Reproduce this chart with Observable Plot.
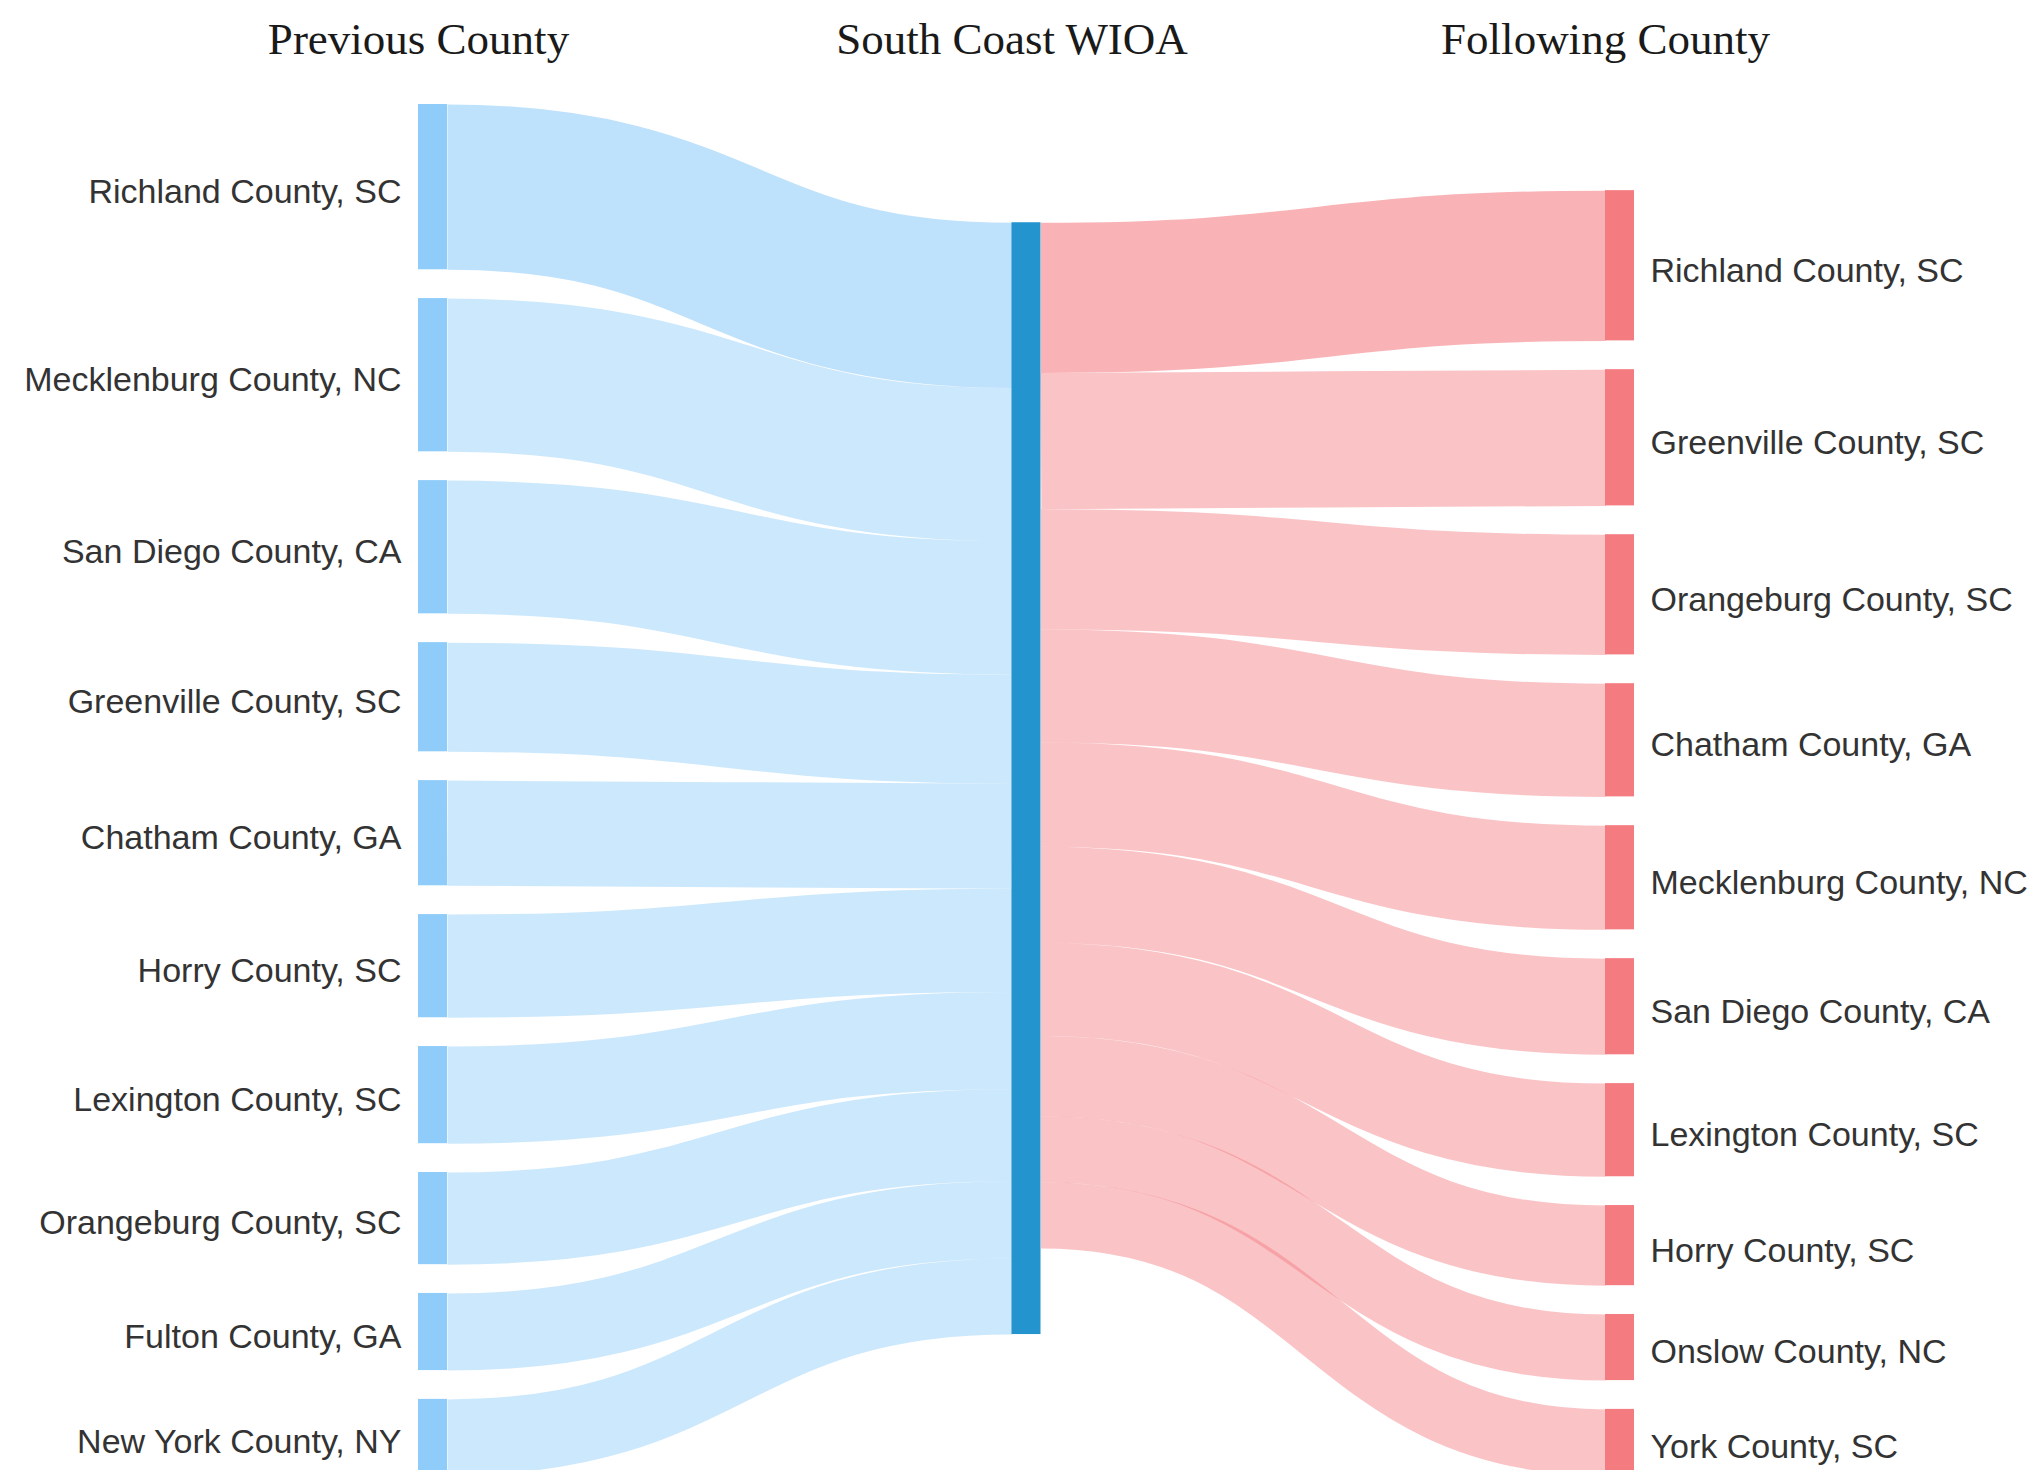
<!DOCTYPE html>
<html>
<head>
<meta charset="utf-8">
<script src="https://cdn.jsdelivr.net/npm/d3@7"></script>
<script src="https://cdn.jsdelivr.net/npm/@observablehq/plot@0.6"></script>
<style>
  html, body { margin: 0; padding: 0; background: #ffffff; overflow: hidden; }
  #chart svg { display: block; background: #ffffff; }
</style>
</head>
<body>
<div id="chart"></div>
<script>
// ---------------- DATA ----------------
const columnTitles = ["Previous County", "South Coast WIOA", "Following County"];
const hubName = "South Coast WIOA";

const previousCounties = [
  "Richland County, SC", "Mecklenburg County, NC", "San Diego County, CA",
  "Greenville County, SC", "Chatham County, GA", "Horry County, SC",
  "Lexington County, SC", "Orangeburg County, SC", "Fulton County, GA",
  "New York County, NY"
];
const previousValues = [165, 153, 133, 109, 105, 103, 97, 92, 77, 76];

const followingCounties = [
  "Richland County, SC", "Greenville County, SC", "Orangeburg County, SC",
  "Chatham County, GA", "Mecklenburg County, NC", "San Diego County, CA",
  "Lexington County, SC", "Horry County, SC", "Onslow County, NC",
  "York County, SC"
];
const followingValues = [150, 136, 120, 113, 104, 96, 93, 80, 66, 66];

// ---------------- LAYOUT SETTINGS ----------------
const W = 2028, H = 1470;
const X_RANGE = [418, 1605];        // left edge of first and last column
const Y_RANGE = [104, 1475];        // vertical extent of the node columns
const SPAN = Y_RANGE[1] - Y_RANGE[0];
const NODE_W_PX = 29;
const NODE_PAD = 28.8;
const NODE_W = NODE_W_PX / ((X_RANGE[1] - X_RANGE[0]) / 2); // in column units

const colors = { left: "#8FCCF9", hub: "#2394CE", right: "#F47B80" };

// ---------------- BUILD GRAPH ----------------
const nodes = [
  ...previousCounties.map(name => ({id: "prev:" + name, name, layer: 0})),
  {id: "hub", name: hubName, layer: 1},
  ...followingCounties.map(name => ({id: "next:" + name, name, layer: 2}))
];
const links = [
  ...previousCounties.map((name, i) => ({source: "prev:" + name, target: "hub", value: previousValues[i], side: "left", rank: i})),
  ...followingCounties.map((name, i) => ({source: "hub", target: "next:" + name, value: followingValues[i], side: "right", rank: i}))
];

// ---------------- SANKEY LAYOUT (classic d3-sankey relaxation) ----------------
function layoutSankey(nodes, links, extent, py, iterations = 32) {
  const y0 = 0, y1 = extent;
  nodes.forEach(n => { n.sourceLinks = []; n.targetLinks = []; });
  const byId = new Map(nodes.map(n => [n.id, n]));
  links.forEach(l => {
    l.source = byId.get(l.source); l.target = byId.get(l.target);
    l.source.sourceLinks.push(l); l.target.targetLinks.push(l);
  });
  nodes.forEach(n => n.value = Math.max(d3.sum(n.sourceLinks, l => l.value), d3.sum(n.targetLinks, l => l.value)));
  const columns = d3.groups(nodes, n => n.layer).sort((a, b) => a[0] - b[0]).map(d => d[1]);
  const ky = d3.min(columns, c => (y1 - y0 - (c.length - 1) * py) / d3.sum(c, n => n.value));
  columns.forEach(ns => ns.forEach((n, i) => { n.y0 = i; n.y1 = i + n.value * ky; }));
  links.forEach(l => l.width = l.value * ky);
  const center = n => (n.y0 + n.y1) / 2;

  function resolveCollisions() {
    for (const ns of columns) {
      let y = y0, node, dy;
      ns.sort((a, b) => a.y0 - b.y0);
      for (let i = 0; i < ns.length; ++i) {
        node = ns[i]; dy = y - node.y0;
        if (dy > 0) node.y0 += dy, node.y1 += dy;
        y = node.y1 + py;
      }
      dy = y - py - y1;
      if (dy > 0) {
        y = (node.y0 -= dy), node.y1 -= dy;
        for (let i = ns.length - 2; i >= 0; --i) {
          node = ns[i]; dy = node.y1 + py - y;
          if (dy > 0) node.y0 -= dy, node.y1 -= dy;
          y = node.y0;
        }
      }
    }
  }
  function relaxLeftToRight(alpha) {
    for (const ns of columns) for (const n of ns) if (n.targetLinks.length) {
      const dy = (d3.sum(n.targetLinks, l => center(l.source) * l.value) / d3.sum(n.targetLinks, l => l.value) - center(n)) * alpha;
      n.y0 += dy; n.y1 += dy;
    }
  }
  function relaxRightToLeft(alpha) {
    for (const ns of columns.slice().reverse()) for (const n of ns) if (n.sourceLinks.length) {
      const dy = (d3.sum(n.sourceLinks, l => center(l.target) * l.value) / d3.sum(n.sourceLinks, l => l.value) - center(n)) * alpha;
      n.y0 += dy; n.y1 += dy;
    }
  }
  resolveCollisions();
  for (let alpha = 1, k = iterations; k > 0; --k) {
    relaxRightToLeft(alpha *= 0.99);
    resolveCollisions();
    relaxLeftToRight(alpha);
    resolveCollisions();
  }
  for (const n of nodes) {
    n.sourceLinks.sort((a, b) => a.target.y0 - b.target.y0);
    n.targetLinks.sort((a, b) => a.source.y0 - b.source.y0);
    let a = n.y0, b = n.y0;
    for (const l of n.sourceLinks) { l.y0 = a + l.width / 2; a += l.width; }
    for (const l of n.targetLinks) { l.y1 = b + l.width / 2; b += l.width; }
  }
  return {nodes, links};
}

layoutSankey(nodes, links, SPAN, NODE_PAD);

const leftLinks = links.filter(l => l.side === "left");
const rightLinks = links.filter(l => l.side === "right");
const nodeFill = n => n.layer === 0 ? colors.left : n.layer === 1 ? colors.hub : colors.right;
const pxPerUnit = (Y_RANGE[1] - Y_RANGE[0]) / SPAN;
const labelFont = "'Liberation Sans', Arial, sans-serif";

const chart = Plot.plot({
  width: W,
  height: H,
  margin: 0,
  x: {type: "linear", domain: [0, 2], range: X_RANGE, axis: null},
  y: {type: "linear", domain: [0, SPAN], range: Y_RANGE, axis: null},
  color: {type: "identity"},
  opacity: {type: "identity"},
  style: {background: "#ffffff"},
  marks: [
    Plot.link(leftLinks, {
      x1: d => d.source.layer + NODE_W, x2: d => d.target.layer,
      y1: "y0", y2: "y1", curve: "bump-x",
      stroke: colors.left,
      strokeOpacity: d => d.rank === 0 ? 0.58 : 0.46,
      strokeWidth: d => d.width * pxPerUnit
    }),
    Plot.link(rightLinks, {
      x1: d => d.source.layer + NODE_W, x2: d => d.target.layer,
      y1: "y0", y2: "y1", curve: "bump-x",
      stroke: colors.right,
      strokeOpacity: d => d.rank === 0 ? 0.58 : 0.45,
      strokeWidth: d => d.width * pxPerUnit
    }),
    Plot.rect(nodes, {
      x1: d => d.layer, x2: d => d.layer + NODE_W,
      y1: "y0", y2: "y1",
      fill: nodeFill
    }),
    Plot.text(nodes.filter(n => n.layer === 0), {
      x: "layer", y: d => (d.y0 + d.y1) / 2, text: "name",
      dx: -17, dy: 5, textAnchor: "end",
      fontFamily: labelFont, fontSize: 34, fill: "#333333"
    }),
    Plot.text(nodes.filter(n => n.layer === 2), {
      x: d => d.layer + NODE_W, y: d => (d.y0 + d.y1) / 2, text: "name",
      dx: 16, dy: 5, textAnchor: "start",
      fontFamily: labelFont, fontSize: 34, fill: "#333333"
    }),
    Plot.text(columnTitles, {
      x: (d, i) => i, text: d => d,
      frameAnchor: "top", dy: 53, lineAnchor: "bottom", textAnchor: "middle",
      fontFamily: "'Liberation Serif', 'Times New Roman', serif", fontSize: 45, fill: "#1a1a1a"
    })
  ]
});

document.getElementById("chart").appendChild(chart);
</script>
</body>
</html>
